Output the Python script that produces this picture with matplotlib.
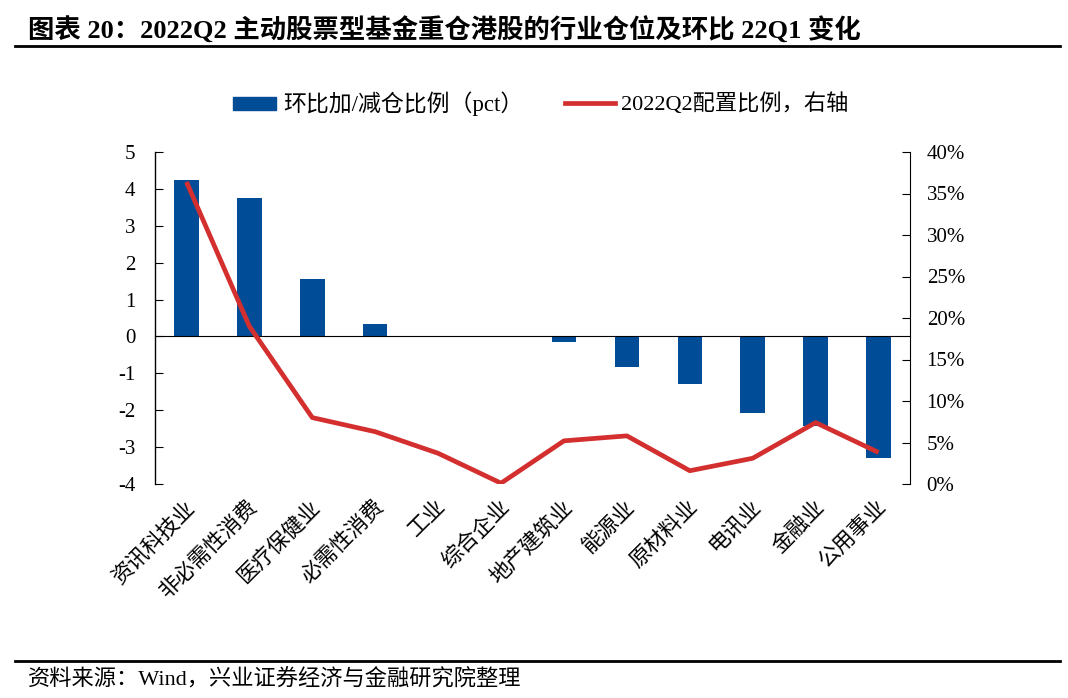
import matplotlib
matplotlib.use("Agg")
import matplotlib.pyplot as plt
import numpy as np
from matplotlib.patches import Rectangle
from matplotlib.lines import Line2D
from matplotlib.ticker import FuncFormatter

plt.rcParams['font.family'] = ['Liberation Serif', 'Noto Sans CJK SC']
plt.rcParams['axes.unicode_minus'] = False

categories = ['资讯科技业', '非必需性消费', '医疗保健业', '必需性消费', '工业', '综合企业',
              '地产建筑业', '能源业', '原材料业', '电讯业', '金融业', '公用事业']
change_pct = [4.25, 3.75, 1.55, 0.35, 0.0, 0.0, -0.15, -0.83, -1.29, -2.08, -2.43, -3.29]
alloc_pct = [36.4, 19.0, 8.0, 6.3, 3.7, 0.1, 5.2, 5.8, 1.6, 3.1, 7.4, 3.8]

bar_color = '#004C97'
line_color = '#D42F2F'

W, H = 1068, 698
fig = plt.figure(figsize=(W / 100, H / 100), dpi=100)

left, right, top, bottom = 155, 910, 152, 484
ax = fig.add_axes([left / W, 1 - bottom / H, (right - left) / W, (bottom - top) / H])
x = np.arange(len(categories))
ax.bar(x, change_pct, width=0.39, color=bar_color, zorder=2)
ax.set_xlim(-0.5, len(categories) - 0.5)
ax.set_ylim(-4, 5)
ax.set_yticks(range(-4, 6))
ax.spines['top'].set_visible(False)
ax.spines['right'].set_visible(False)
ax.spines['bottom'].set_position(('data', 0))
ax.spines['bottom'].set_zorder(3)
ax.spines['left'].set_linewidth(1.0)
ax.tick_params(axis='y', direction='in', length=6, labelsize=15, pad=14)
ax.tick_params(axis='x', length=0, labelbottom=False)
ax.set_xticks(x)
for i, c in enumerate(categories):
    ax.text(i - 0.02, -4.35, c, rotation=45, ha='right', va='top',
            rotation_mode='anchor', fontsize=15.5, transform=ax.transData)

ax2 = ax.twinx()
ax2.plot(x, alloc_pct, color=line_color, linewidth=3.4, zorder=4, solid_capstyle='butt')
ax2.set_ylim(0, 40)
ax2.set_yticks(range(0, 45, 5))
ax2.yaxis.set_major_formatter(FuncFormatter(lambda v, p: f'{int(v)}%'))
ax2.spines['top'].set_visible(False)
ax2.spines['left'].set_visible(False)
ax2.spines['bottom'].set_visible(False)
ax2.tick_params(axis='y', direction='in', length=6, labelsize=15, pad=12)

# legend (manual)
fig.add_artist(Rectangle((233 / W, 1 - 110 / H), 43 / W, 13 / H, color=bar_color,
                         transform=fig.transFigure))
fig.text(283 / W, 1 - 104 / H, '环比加/减仓比例（pct）', fontsize=16.5, va='center', ha='left')
fig.add_artist(Line2D([565 / W, 615 / W], [1 - 103 / H, 1 - 103 / H], color=line_color,
                      linewidth=3.4, transform=fig.transFigure))
fig.text(621 / W, 1 - 104 / H, '2022Q2配置比例，右轴', fontsize=16, va='center', ha='left')

# title and footer
fig.text(28 / W, 1 - 30 / H, '图表 20：2022Q2 主动股票型基金重仓港股的行业仓位及环比 22Q1 变化',
         fontsize=19, fontweight='bold', va='center', ha='left')
fig.add_artist(Line2D([15 / W, 1060 / W], [1 - 46 / H, 1 - 46 / H], color='black',
                      linewidth=2, transform=fig.transFigure))
fig.add_artist(Line2D([15 / W, 1060 / W], [1 - 661 / H, 1 - 661 / H], color='black',
                      linewidth=2, transform=fig.transFigure))
fig.text(28 / W, 1 - 680 / H, '资料来源：Wind，兴业证券经济与金融研究院整理',
         fontsize=16, va='center', ha='left')

fig.savefig('out.png', dpi=100)
